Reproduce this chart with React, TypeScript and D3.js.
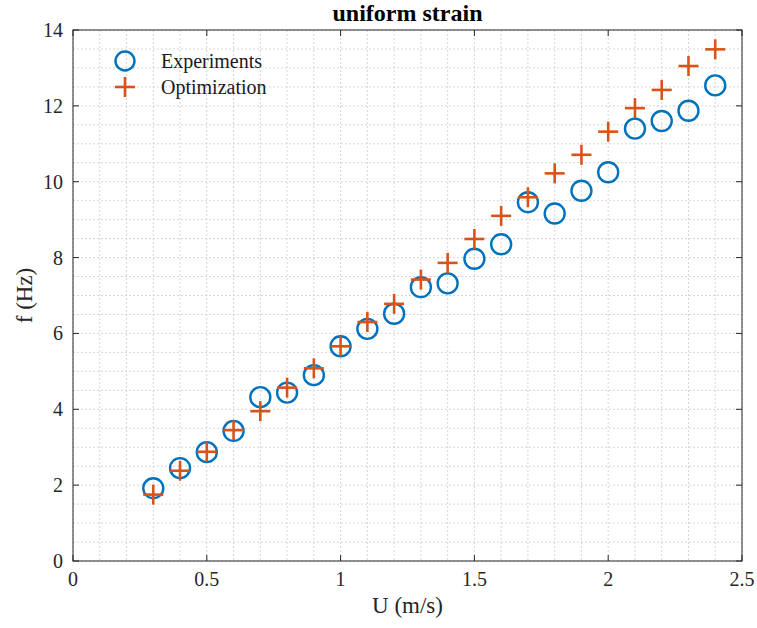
import React from "react";
import * as d3 from "d3";

const U = [0.3, 0.4, 0.5, 0.6, 0.7, 0.8, 0.9, 1.0, 1.1, 1.2, 1.3, 1.4, 1.5, 1.6, 1.7, 1.8, 1.9, 2.0, 2.1, 2.2, 2.3, 2.4];
const experiments = [1.92, 2.45, 2.87, 3.43, 4.32, 4.44, 4.9, 5.66, 6.12, 6.52, 7.22, 7.32, 7.97, 8.35, 9.46, 9.16, 9.76, 10.25, 11.4, 11.6, 11.87, 12.54];
const optimization = [1.75, 2.38, 2.88, 3.45, 3.95, 4.57, 5.08, 5.66, 6.3, 6.78, 7.42, 7.86, 8.49, 9.1, 9.59, 10.22, 10.71, 11.32, 11.94, 12.42, 13.05, 13.49];
const xTicks = [0, 0.5, 1, 1.5, 2, 2.5];
const yTicks = [0, 2, 4, 6, 8, 10, 12, 14];
const xMinor = d3.range(0, 2.5001, 0.1);
const yMinor = d3.range(0, 14.001, 0.5);

const W = 757, H = 628;
const L = 73, R = 742, T = 30, B = 561;
const BLUE = "#0072BD";
const ORANGE = "#D95319";
const AX = "#262626";
const FONT = "'Liberation Serif', 'Times New Roman', serif";

export default function App() {
  const x = d3.scaleLinear().domain([0, 2.5]).range([L, R]);
  const y = d3.scaleLinear().domain([0, 14]).range([B, T]);
  const tl = 6;
  const plus = (cx: number, cy: number, s: number, key: any) => (
    <g key={key} stroke={ORANGE} strokeWidth={2.6}>
      <line x1={cx - s} x2={cx + s} y1={cy} y2={cy} />
      <line x1={cx} x2={cx} y1={cy - s} y2={cy + s} />
    </g>
  );
  return (
    <svg width={W} height={H} style={{ position: "absolute", left: 0, top: 0, background: "#fff" }}>
      <rect x={0} y={0} width={W} height={H} fill="#fff" />
      <g stroke="#d6d6d6" strokeWidth={1} strokeDasharray="2,2">
        {xMinor.map((v, i) => (
          <line key={"xm" + i} x1={x(v)} x2={x(v)} y1={T} y2={B} />
        ))}
        {yMinor.map((v, i) => (
          <line key={"ym" + i} x1={L} x2={R} y1={y(v)} y2={y(v)} />
        ))}
      </g>
      <g fill="none" stroke={AX} strokeWidth={1}>
        <rect x={L} y={T} width={R - L} height={B - T} />
        {xTicks.map((v, i) => (
          <g key={"xt" + i}>
            <line x1={x(v)} x2={x(v)} y1={B} y2={B - tl} />
            <line x1={x(v)} x2={x(v)} y1={T} y2={T + tl} />
          </g>
        ))}
        {yTicks.map((v, i) => (
          <g key={"yt" + i}>
            <line x1={L} x2={L + tl} y1={y(v)} y2={y(v)} />
            <line x1={R} x2={R - tl} y1={y(v)} y2={y(v)} />
          </g>
        ))}
      </g>
      <g fontFamily={FONT} fontSize={20} fill={AX}>
        {xTicks.map((v, i) => (
          <text key={"xl" + i} x={x(v)} y={B + 25} textAnchor="middle">{String(v)}</text>
        ))}
        {yTicks.map((v, i) => (
          <text key={"yl" + i} x={L - 10} y={y(v) + 7} textAnchor="end">{String(v)}</text>
        ))}
        <text x={(L + R) / 2} y={613} textAnchor="middle" fontSize={23}>U (m/s)</text>
        <text transform={`translate(32,${(T + B) / 2}) rotate(-90)`} textAnchor="middle" fontSize={23}>f (Hz)</text>
        <text x={(L + R) / 2} y={21} textAnchor="middle" fontWeight="bold" fontSize={24} fill="#000">uniform strain</text>
      </g>
      <g>
        {U.map((u, i) => (
          <circle key={"c" + i} cx={x(u)} cy={y(experiments[i])} r={10} fill="none" stroke={BLUE} strokeWidth={2.4} />
        ))}
        {U.map((u, i) => plus(x(u), y(optimization[i]), 10, "p" + i))}
      </g>
      <g fontFamily={FONT} fontSize={20} fill="#1a1a1a">
        <circle cx={125} cy={61} r={9.5} fill="none" stroke={BLUE} strokeWidth={2.4} />
        {plus(125, 87, 10, "lp")}
        <text x={161} y={68}>Experiments</text>
        <text x={161} y={94}>Optimization</text>
      </g>
    </svg>
  );
}
